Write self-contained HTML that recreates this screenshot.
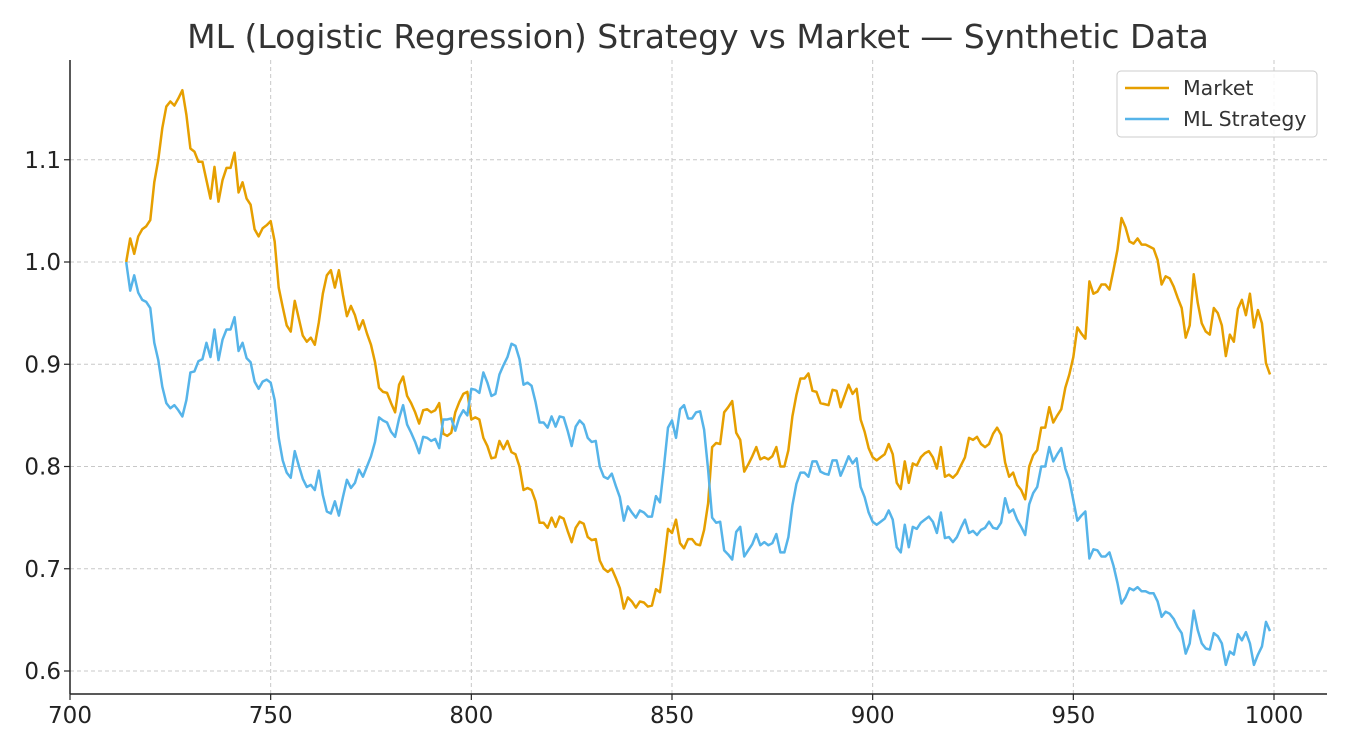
<!DOCTYPE html>
<html><head><meta charset="utf-8"><style>
html,body{margin:0;padding:0;background:#fff;}
svg{display:block;font-family:"DejaVu Sans","Liberation Sans",sans-serif;}
</style></head><body>
<svg id="chart" width="1350" height="750">
<text x="698" y="48" text-anchor="middle" font-size="33" fill="#333">ML (Logistic Regression) Strategy vs Market — Synthetic Data</text>
<g id="grid"></g><g id="axes"></g><g id="series"></g>
<g>
<rect x="1117" y="71" width="200" height="66" rx="4" fill="#fff" fill-opacity="0.85" stroke="#ccc"/>
<line x1="1125" y1="88" x2="1169" y2="88" stroke="#E69F00" stroke-width="2.5"/>
<text x="1183" y="95" font-size="20.5" fill="#333">Market</text>
<line x1="1125" y1="119" x2="1169" y2="119" stroke="#56B4E9" stroke-width="2.5"/>
<text x="1183" y="126" font-size="20.5" fill="#333">ML Strategy</text>
</g>
</svg>
<script>
const startDay = 714;
const marketValues = [1.000,1.023,1.008,1.025,1.032,1.035,1.041,1.078,1.100,1.131,
1.152,1.157,1.153,1.160,1.168,1.144,1.111,1.108,1.098,1.098,
1.080,1.062,1.093,1.059,1.080,1.092,1.092,1.107,1.068,1.078,
1.062,1.056,1.032,1.025,1.033,1.036,1.040,1.020,0.975,0.956,
0.938,0.932,0.962,0.945,0.928,0.922,0.926,0.919,0.941,0.969,
0.987,0.992,0.975,0.992,0.968,0.947,0.957,0.948,0.934,0.943,
0.930,0.919,0.902,0.877,0.873,0.872,0.862,0.853,0.880,0.888,
0.869,0.862,0.853,0.842,0.855,0.856,0.853,0.855,0.862,0.832,
0.830,0.833,0.853,0.863,0.871,0.873,0.846,0.848,0.846,0.828,
0.820,0.808,0.809,0.825,0.817,0.825,0.814,0.812,0.800,0.777,
0.779,0.777,0.766,0.745,0.745,0.740,0.750,0.741,0.751,0.749,
0.737,0.726,0.740,0.746,0.744,0.731,0.728,0.729,0.708,0.700,
0.697,0.700,0.691,0.681,0.661,0.672,0.668,0.662,0.668,0.667,
0.663,0.664,0.680,0.677,0.706,0.739,0.735,0.748,0.725,0.720,
0.729,0.729,0.724,0.723,0.738,0.764,0.819,0.823,0.822,0.853,
0.858,0.864,0.833,0.826,0.795,0.802,0.810,0.819,0.807,0.809,
0.807,0.810,0.819,0.800,0.800,0.816,0.849,0.870,0.886,0.886,
0.891,0.874,0.873,0.862,0.861,0.860,0.875,0.874,0.858,0.869,
0.880,0.871,0.876,0.846,0.834,0.818,0.809,0.806,0.809,0.812,
0.822,0.812,0.784,0.778,0.805,0.784,0.803,0.801,0.809,0.813,
0.815,0.809,0.798,0.819,0.790,0.792,0.789,0.793,0.801,0.809,
0.828,0.826,0.829,0.822,0.819,0.822,0.832,0.838,0.831,0.804,
0.790,0.794,0.782,0.777,0.768,0.800,0.811,0.816,0.838,0.838,
0.858,0.843,0.850,0.856,0.877,0.890,0.907,0.936,0.930,0.925,
0.981,0.969,0.971,0.978,0.978,0.973,0.992,1.012,1.043,1.034,
1.020,1.018,1.023,1.017,1.017,1.015,1.013,1.002,0.978,0.986,
0.984,0.976,0.965,0.955,0.926,0.938,0.988,0.960,0.940,0.932,
0.929,0.955,0.950,0.938,0.908,0.929,0.922,0.954,0.963,0.948,
0.969,0.936,0.953,0.940,0.901,0.890];
const mlValues = [1.000,0.972,0.987,0.970,0.963,0.961,0.955,0.921,0.904,0.878,
0.862,0.857,0.860,0.855,0.849,0.865,0.892,0.893,0.903,0.905,
0.921,0.907,0.934,0.904,0.924,0.934,0.934,0.946,0.913,0.921,
0.906,0.902,0.883,0.876,0.883,0.885,0.882,0.865,0.828,0.806,
0.794,0.789,0.815,0.801,0.788,0.780,0.782,0.777,0.796,0.772,
0.756,0.754,0.766,0.752,0.770,0.787,0.779,0.784,0.797,0.790,
0.800,0.810,0.824,0.848,0.845,0.843,0.834,0.829,0.847,0.860,
0.841,0.833,0.824,0.813,0.829,0.828,0.825,0.827,0.818,0.846,
0.846,0.847,0.835,0.848,0.855,0.850,0.876,0.875,0.872,0.892,
0.882,0.869,0.871,0.890,0.899,0.907,0.920,0.918,0.905,0.880,
0.882,0.879,0.863,0.843,0.843,0.838,0.849,0.839,0.849,0.848,
0.835,0.820,0.839,0.845,0.841,0.828,0.824,0.825,0.800,0.790,
0.788,0.793,0.781,0.770,0.747,0.761,0.755,0.750,0.757,0.755,
0.751,0.751,0.771,0.765,0.800,0.838,0.845,0.828,0.856,0.860,
0.847,0.847,0.853,0.854,0.836,0.797,0.750,0.745,0.746,0.718,
0.714,0.709,0.736,0.741,0.712,0.718,0.724,0.734,0.723,0.726,
0.723,0.725,0.734,0.716,0.716,0.731,0.762,0.783,0.794,0.794,
0.790,0.805,0.805,0.795,0.793,0.792,0.806,0.806,0.791,0.800,
0.810,0.803,0.808,0.780,0.770,0.755,0.746,0.743,0.746,0.749,
0.757,0.748,0.721,0.716,0.743,0.721,0.741,0.739,0.745,0.748,
0.751,0.746,0.735,0.755,0.730,0.731,0.726,0.731,0.740,0.748,
0.735,0.737,0.733,0.738,0.740,0.746,0.740,0.739,0.745,0.769,
0.755,0.758,0.748,0.741,0.733,0.763,0.774,0.780,0.800,0.800,
0.819,0.805,0.812,0.818,0.798,0.787,0.767,0.747,0.752,0.756,
0.710,0.719,0.718,0.712,0.712,0.716,0.703,0.686,0.666,0.672,
0.681,0.679,0.682,0.678,0.678,0.676,0.676,0.668,0.653,0.658,
0.656,0.651,0.643,0.637,0.617,0.627,0.659,0.640,0.627,0.622,
0.621,0.637,0.634,0.627,0.606,0.619,0.616,0.636,0.630,0.638,
0.627,0.606,0.616,0.624,0.648,0.639];
const xTicks = [700,750,800,850,900,950,1000];
const yTicks = [0.6,0.7,0.8,0.9,1.0,1.1];
const yTickLabels = ["0.6","0.7","0.8","0.9","1.0","1.1"];

const NS = "http://www.w3.org/2000/svg";
const L = 70, R = 1327, T = 60, B = 694;
function xs(v){ return 70 + (v - 700) * (1204 / 300); }
function ys(v){ return 262 + (1.0 - v) * 1022.5; }
function mk(tag, attrs, parent){ const e = document.createElementNS(NS, tag); for (const k in attrs) e.setAttribute(k, attrs[k]); parent.appendChild(e); return e; }
const grid = document.getElementById('grid'), axes = document.getElementById('axes'), series = document.getElementById('series');

xTicks.forEach(t => {
  const x = xs(t);
  if (t > 700) {
    const g = mk('line', {x1:x, y1:T, x2:x, y2:B, stroke:'#c8c8c8', 'stroke-dasharray':'4,3', 'stroke-width':1}, grid);
    
    
  }
  const tk = mk('line', {x1:x, y1:B, x2:x, y2:B+6, stroke:'#222', 'stroke-width':1.2}, axes);
  
  
  const lb = mk('text', {x:x, y:B+29, 'text-anchor':'middle', 'font-size':23, fill:'#222'}, axes);
  lb.textContent = String(t);
  
  
});
yTicks.forEach((t, i) => {
  const y = ys(t);
  const g = mk('line', {x1:L, y1:y, x2:R, y2:y, stroke:'#c8c8c8', 'stroke-dasharray':'4,3', 'stroke-width':1}, grid);
  
  
  const tk = mk('line', {x1:L-6, y1:y, x2:L, y2:y, stroke:'#222', 'stroke-width':1.2}, axes);
  
  
  const lb = mk('text', {x:L-9, y:y+8, 'text-anchor':'end', 'font-size':23, fill:'#222'}, axes);
  lb.textContent = yTickLabels[i];
  
  
});
const ax1 = mk('line', {x1:L, y1:T, x2:L, y2:B, stroke:'#222', 'stroke-width':1.5}, axes);


const ax2 = mk('line', {x1:L, y1:B, x2:R, y2:B, stroke:'#222', 'stroke-width':1.5}, axes);



function drawLine(vals, color, name){
  const pts = vals.map((v, i) => xs(startDay + i).toFixed(2) + ',' + ys(v).toFixed(2)).join(' ');
  const p = mk('polyline', {points:pts, fill:'none', stroke:color, 'stroke-width':2.5, 'stroke-linejoin':'round'}, series);
  
  
}
drawLine(marketValues, '#E69F00', 'market-line');
drawLine(mlValues, '#56B4E9', 'ml-strategy-line');
</script>
</body></html>
